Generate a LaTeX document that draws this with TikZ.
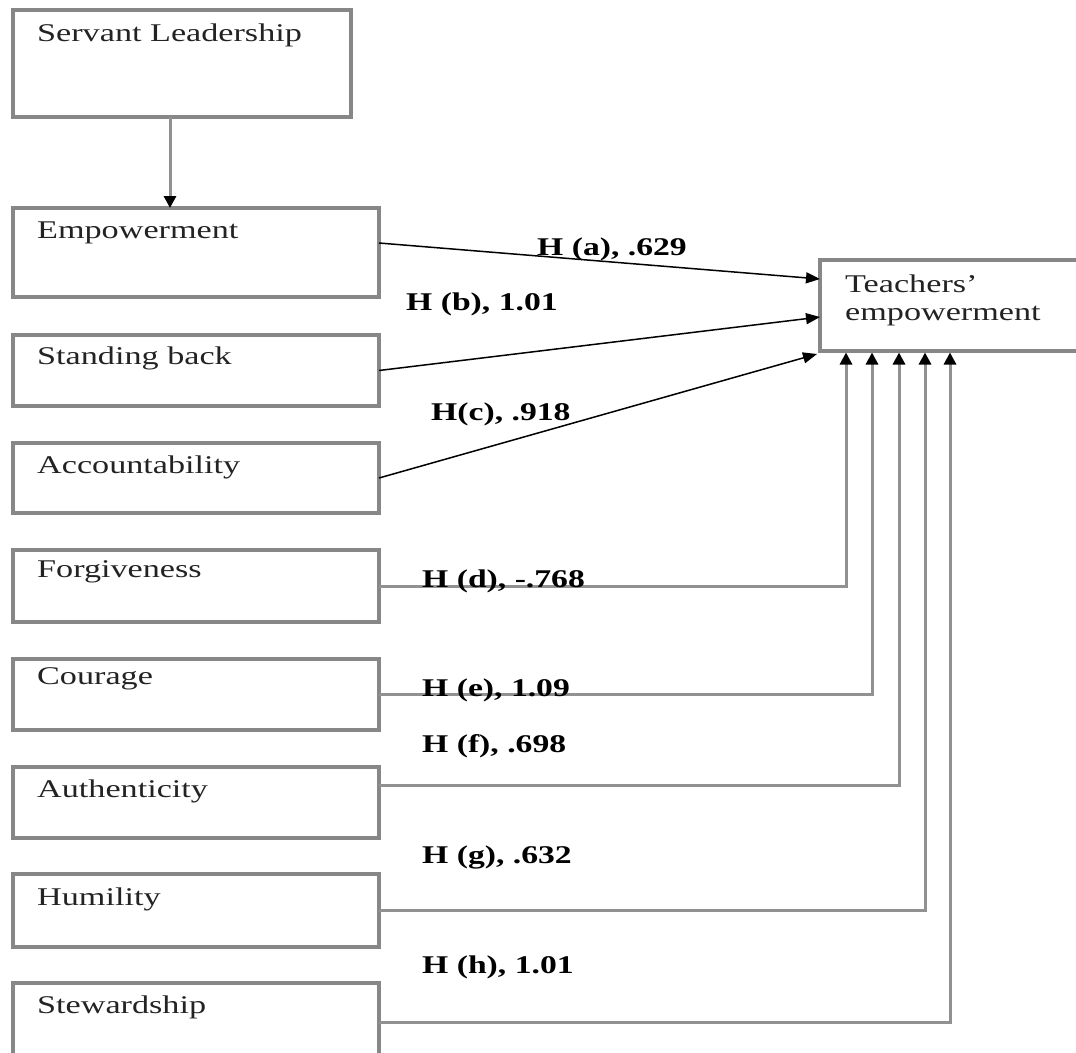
\documentclass[tikz,border=0pt]{standalone}
\usepackage{fontspec}
\setmainfont{Liberation Serif}
\usepackage{graphicx}
\usetikzlibrary{arrows.meta,calc}
\definecolor{boxgray}{RGB}{135,135,135}
\definecolor{linegray}{RGB}{145,145,145}
\definecolor{txtgray}{RGB}{35,35,35}
\newcommand\sx[1]{\scalebox{1.34}[1]{#1}}
\newcommand\sxb[1]{\scalebox{1.32}[1]{#1}}
\begin{document}
\begin{tikzpicture}[x=1pt,y=-1pt,
  box/.style={draw=boxgray,line width=3.2pt,rectangle,minimum width=366pt,anchor=north west,inner sep=0pt,outer sep=0pt},
  txt/.style={anchor=base west,inner sep=0pt,text=txtgray,font=\fontsize{25.5}{28}\selectfont},
  lbl/.style={anchor=base west,inner sep=0pt,text=black,font=\fontsize{25.5}{28}\selectfont\bfseries},
  darrow/.style={draw=black,line width=1.5pt,-{Triangle[length=14pt,width=11pt]}},
  garrow/.style={draw=linegray,line width=3pt,-{Triangle[length=12pt,width=12pt,color=black]}}
]
\useasboundingbox (0,0) rectangle (1076,1052);
\clip (0,0) rectangle (1076,1052);
\fill[white] (0,0) rectangle (1076,1052);

% boxes
\node[box,minimum width=338pt,minimum height=107pt] (sl) at (13,10) {};
\node[box,minimum height=89pt] (emp) at (13,208) {};
\node[box,minimum height=71pt] (sb) at (13,335) {};
\node[box,minimum height=70pt] (acc) at (13,443) {};
\node[box,minimum height=72pt] (forg) at (13,550) {};
\node[box,minimum height=71pt] (cour) at (13,659) {};
\node[box,minimum height=71pt] (auth) at (13,767) {};
\node[box,minimum height=73pt] (hum) at (13,874) {};
\node[box,minimum height=80pt] (stew) at (13,983) {};
\node[box,minimum width=300pt,minimum height=91pt] (teach) at (820,260) {};

% box texts
\node[txt] (tsl) at ($(sl.north west)+(24,31)$) {\sx{Servant Leadership}};
\node[txt] (temp) at ($(emp.north west)+(24,30)$) {\sx{Empowerment}};
\node[txt] (tsb) at ($(sb.north west)+(24,29)$) {\sx{Standing back}};
\node[txt] (tacc) at ($(acc.north west)+(24,30)$) {\sx{Accountability}};
\node[txt] (tforg) at ($(forg.north west)+(24,27)$) {\sx{Forgiveness}};
\node[txt] (tcour) at ($(cour.north west)+(24,25)$) {\sx{Courage}};
\node[txt] (tauth) at ($(auth.north west)+(24,30)$) {\sx{Authenticity}};
\node[txt] (thum) at ($(hum.north west)+(24,31)$) {\sx{Humility}};
\node[txt] (tstew) at ($(stew.north west)+(24,30)$) {\sx{Stewardship}};
\node[txt] (tt1) at ($(teach.north west)+(25,32)$) {\sx{Teachers’}};
\node[txt] (tt2) at ($(teach.north west)+(25,60)$) {\sx{empowerment}};

% connectors
\draw[garrow] ([xshift=-12pt]sl.south) -- ([xshift=-12pt]sl.south |- emp.north);
\draw[darrow] ([yshift=9.5pt]emp.east) -- ([yshift=26.5pt]teach.west);
\draw[darrow] (sb.east) -- ([yshift=-11.5pt]teach.west);
\draw[darrow] (acc.east) -- ([xshift=-3pt,yshift=-3pt]teach.south west);
\draw[garrow] (forg.east) -| ([xshift=26pt,yshift=-1.5pt]teach.south west);
\draw[garrow] (cour.east) -| ([xshift=52pt,yshift=-1.5pt]teach.south west);
\draw[garrow] ([yshift=17pt]auth.east) -| ([xshift=79pt,yshift=-1.5pt]teach.south west);
\draw[garrow] (hum.east) -| ([xshift=105pt,yshift=-1.5pt]teach.south west);
\draw[garrow] ([yshift=1pt]stew.east) -| ([xshift=130pt,yshift=-1.5pt]teach.south west);

% labels
\node[lbl] (la) at (537,255) {\sxb{H (a), .629}};
\node[lbl] (lb) at (406,310) {\sxb{H (b), 1.01}};
\node[lbl] (lc) at (431,420) {\sxb{H(c), .918}};
\node[lbl] (ld) at (422,587) {\sxb{H (d), -.768}};
\node[lbl] (le) at (422,696) {\sxb{H (e), 1.09}};
\node[lbl] (lf) at (422,752) {\sxb{H (f), .698}};
\node[lbl] (lg) at (422,863) {\sxb{H (g), .632}};
\node[lbl] (lh) at (422,973) {\sxb{H (h), 1.01}};
\end{tikzpicture}
\end{document}
